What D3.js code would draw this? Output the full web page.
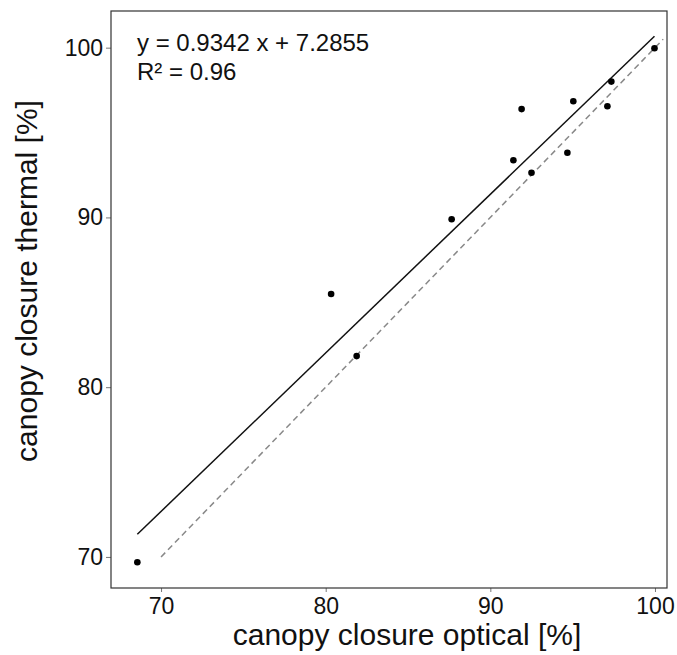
<!DOCTYPE html>
<html>
<head>
<meta charset="utf-8">
<script src="https://cdn.jsdelivr.net/npm/d3@7"></script>
<style>
  body { margin: 0; background: #fff; }
  text { font-family: "Liberation Sans", Arial, sans-serif; }
</style>
</head>
<body>
<div id="chart"></div>
<script>
// canopy closure: optical vs thermal, with regression + 1:1 line

const optical = [68.56, 80.33, 81.88, 87.65, 91.40, 91.90, 92.50, 94.68, 95.04, 97.11, 97.35, 99.97];
const thermal = [69.69, 85.49, 81.83, 89.89, 93.37, 96.38, 92.63, 93.81, 96.84, 96.55, 98.00, 99.97];
const xTicks = [70, 80, 90, 100];
const yTicks = [70, 80, 90, 100];
const slope = 0.9342, intercept = 7.2855;
const oneToOne = [70, 100.5];
const eqLabel = "y = 0.9342 x + 7.2855";
const r2Label = "R² = 0.96";

const margin = { top: 11, right: 10, bottom: 67, left: 111 },
    width = 677 - margin.left - margin.right,
    height = 655 - margin.top - margin.bottom;

const svg = d3.select("#chart")
    .append("svg")
    .attr("width", width + margin.left + margin.right)
    .attr("height", height + margin.top + margin.bottom)
    .append("g")
    .attr("transform", `translate(${margin.left},${margin.top})`);

const x = d3.scaleLinear().domain([66.96, 100.73]).range([0, width]);
const y = d3.scaleLinear().domain([68.17, 102.16]).range([height, 0]);

const points = optical.map((d, i) => ({ x: d, y: thermal[i] }));

// axes
const xAxis = svg.append("g")
    .attr("transform", `translate(0,${height})`)
    .call(d3.axisBottom(x).tickValues(xTicks).tickSize(4).tickPadding(6));
const yAxis = svg.append("g")
    .call(d3.axisLeft(y).tickValues(yTicks).tickSize(5).tickPadding(3));

[xAxis, yAxis].forEach(a => {
    a.select(".domain").remove();
    a.selectAll(".tick line").attr("stroke", "#777");
    a.selectAll(".tick text")
        .attr("font-size", "23px")
        .attr("fill", "#111")
        .style("font-family", "'Liberation Sans', Arial, sans-serif");
});

// plot frame
svg.append("rect")
    .attr("x", 0).attr("y", 0)
    .attr("width", width).attr("height", height)
    .attr("fill", "none")
    .attr("stroke", "#333")
    .attr("stroke-width", 1.2);

// 1:1 line
svg.append("line")
    .attr("x1", x(oneToOne[0])).attr("y1", y(oneToOne[0]))
    .attr("x2", x(oneToOne[1])).attr("y2", y(oneToOne[1]))
    .attr("stroke", "#888")
    .attr("stroke-width", 1.5)
    .attr("stroke-dasharray", "6,4");

// regression line over data range
const [xmin, xmax] = d3.extent(optical);
svg.append("line")
    .attr("x1", x(xmin)).attr("y1", y(slope * xmin + intercept))
    .attr("x2", x(xmax)).attr("y2", y(slope * xmax + intercept))
    .attr("stroke", "#111")
    .attr("stroke-width", 1.5);

svg.selectAll(".dot")
    .data(points)
    .join("circle")
    .attr("class", "dot")
    .attr("cx", d => x(d.x))
    .attr("cy", d => y(d.y))
    .attr("r", 3.3)
    .attr("fill", "#000");

// equation text
svg.append("text")
    .attr("x", 26)
    .attr("y", 40)
    .attr("font-size", "24px")
    .attr("fill", "#111")
    .text(eqLabel);
svg.append("text")
    .attr("x", 26)
    .attr("y", 69)
    .attr("font-size", "24px")
    .attr("fill", "#111")
    .text(r2Label);

// axis titles
svg.append("text")
    .attr("x", (x(xTicks[0]) + x(xTicks[3])) / 2 - 1)
    .attr("y", height + 57)
    .attr("text-anchor", "middle")
    .attr("font-size", "30px")
    .attr("fill", "#111")
    .text("canopy closure optical [%]");

svg.append("text")
    .attr("x", -270)
    .attr("y", -74)
    .attr("text-anchor", "middle")
    .attr("transform", "rotate(-90)")
    .attr("font-size", "30px")
    .attr("fill", "#111")
    .text("canopy closure thermal [%]");
</script>
</body>
</html>
